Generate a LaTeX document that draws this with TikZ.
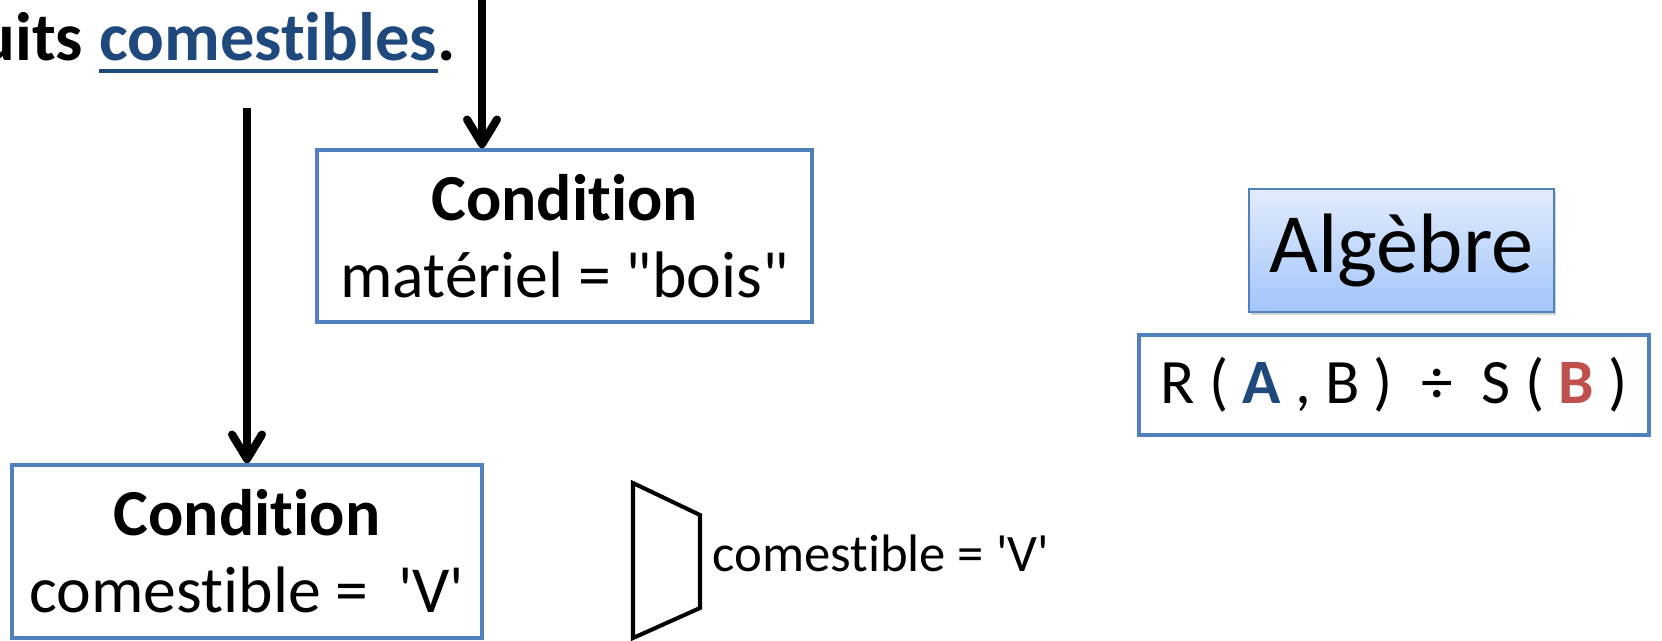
\documentclass[tikz,border=0pt]{standalone}
\usepackage{fontspec}
\setmainfont{Carlito}[Ligatures={TeXOff,NoCommon}]
\usepackage{xcolor}
\usepackage{tikz}
\usetikzlibrary{arrows.meta, positioning, shadows}
\definecolor{boxblue}{RGB}{79,129,189}
\definecolor{txtblue}{RGB}{31,73,125}
\definecolor{txtred}{RGB}{192,80,77}
\definecolor{gradtop}{RGB}{226,236,253}
\definecolor{gradbot}{RGB}{163,197,250}

\begin{document}
\begin{tikzpicture}[x=0.02cm, y=-0.02cm,
    condbox/.style={draw=boxblue, line width=2.1pt, fill=white, inner sep=0pt, align=center,
      font=\fontsize{37.4}{44}\selectfont},
    titletext/.style={inner sep=0pt, anchor=base west, font=\fontsize{39}{47}\selectfont\bfseries},
    flow/.style={line width=4.6pt, -{Straight Barb[length=14pt, width=17pt, round]}}]
  % Frame: 1662 x 640 px, 1px = 0.02cm
  \useasboundingbox (0,0) rectangle (1662,640);
  % Title fragment, cut at the left edge
  \node[titletext] (tpre) at (-22,60) {uits};
  \node[titletext, text=txtblue] (tword) at ([xshift=8.8pt]tpre.base east) {comestibles};
  \node[titletext] (tdot) at (tword.base east) {.};
  \draw[txtblue, line width=2.5pt] ([yshift=-6.3pt]tword.base west) -- ([yshift=-6.3pt]tword.base east);
  % Arrow starts
  \coordinate (s1) at (482,-10);
  \coordinate (s2) at (247,108);
  % Selection boxes
  \node[condbox, minimum width=9.9cm, minimum height=3.44cm] (cbois) at (564.5,236)
    {\textbf{Condition}\\mat\'eriel = "bois"};
  \node[condbox, minimum width=9.4cm, minimum height=3.46cm] (ccomest) at (247,551.5)
    {\textbf{Condition}\\comestible =\ \ 'V'};
  \draw[flow] (s1) -- (s1 |- cbois.north);
  \draw[flow] (s2) -- (ccomest.north);
  % Selection symbol
  \coordinate (t1) at (633,483);
  \coordinate (t2) at (700,515);
  \coordinate (t3) at (700,608);
  \coordinate (t4) at (633,638);
  \draw[line width=2.3pt, line join=miter] (t1) -- (t2) -- (t3) -- (t4) -- cycle;
  \node[anchor=base west, inner sep=0pt, font=\fontsize{30}{36}\selectfont] (tlabel) at (712,571)
    {comestible = 'V'};
  % Algebra
  \node[draw=boxblue, line width=1.6pt, top color=gradtop, bottom color=gradbot,
    drop shadow={shadow xshift=1pt, shadow yshift=-1.5pt, opacity=0.35},
    minimum width=6.1cm, minimum height=2.46cm, inner sep=0pt,
    font=\fontsize{48}{57}\selectfont] (algebre) at (1401.5,250.5) {Alg\`ebre};
  \node[draw=boxblue, line width=2.3pt, minimum width=10.2cm, minimum height=2cm, inner sep=0pt,
    font=\fontsize{36}{43}\selectfont] (division) at (1394,385)
    {R ( {\bfseries\color{txtblue}A} , B )\ \ ÷\ \ S ( {\bfseries\color{txtred}B} )};
\end{tikzpicture}
\end{document}
